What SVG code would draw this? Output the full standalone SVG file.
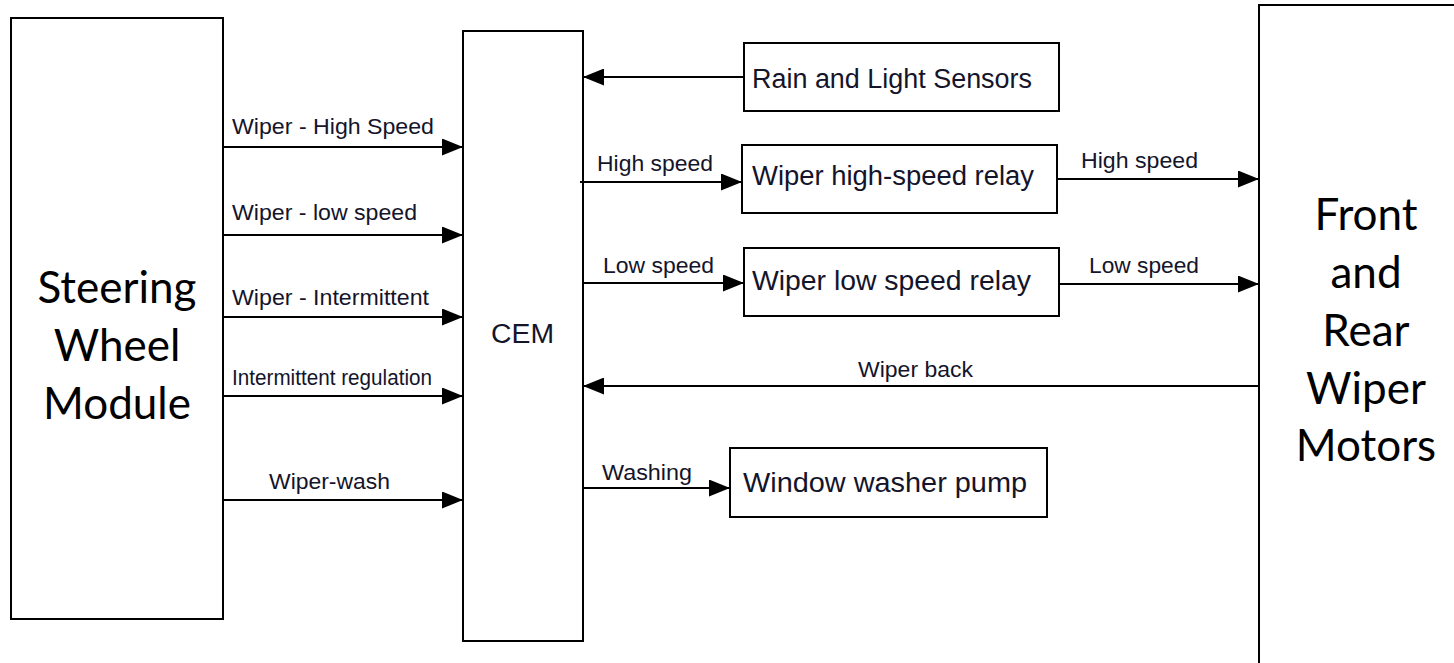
<svg xmlns="http://www.w3.org/2000/svg" width="1454" height="663" viewBox="0 0 1454 663">
<style>
.box{fill:#fff;stroke:#000;stroke-width:2}
.big{font-family:Lato,"Liberation Sans",sans-serif;font-size:44px;fill:#000;text-anchor:middle}
.bt{font-family:"Liberation Sans",Arial,sans-serif;font-size:27px;fill:#14142a}
.lb{font-family:"Liberation Sans",Arial,sans-serif;font-size:22px;fill:#14142a}
.ln{stroke:#000;stroke-width:2;fill:none;marker-end:url(#ah)}
</style>
<defs>
<marker id="ah" markerUnits="userSpaceOnUse" markerWidth="21" markerHeight="17" refX="21" refY="8.5" orient="auto">
<path d="M0,0 L21,8.5 L0,17 z" fill="#000"/>
</marker>
</defs>
<rect width="1454" height="663" fill="#fff"/>
<g id="swm">
<rect class="box" x="11" y="18" width="212" height="601"/>
<text class="big" x="117" y="303">Steering</text>
<text class="big" x="117" y="361">Wheel</text>
<text class="big" x="117" y="419">Module</text>
</g>
<g id="cem">
<rect class="box" x="463" y="31" width="120" height="610"/>
<text class="bt" x="491" y="343" textLength="63" lengthAdjust="spacingAndGlyphs">CEM</text>
</g>
<g id="rain">
<rect class="box" x="744" y="43" width="315" height="68"/>
<text class="bt" x="752" y="88" textLength="280" lengthAdjust="spacingAndGlyphs">Rain and Light Sensors</text>
</g>
<g id="hsrelay">
<rect class="box" x="742" y="145" width="315" height="68"/>
<text class="bt" x="752" y="185" textLength="282" lengthAdjust="spacingAndGlyphs">Wiper high-speed relay</text>
</g>
<g id="lsrelay">
<rect class="box" x="744" y="248" width="315" height="68"/>
<text class="bt" x="752" y="290" textLength="279" lengthAdjust="spacingAndGlyphs">Wiper low speed relay</text>
</g>
<g id="pump">
<rect class="box" x="730" y="448" width="317" height="69"/>
<text class="bt" x="743" y="492" textLength="284" lengthAdjust="spacingAndGlyphs">Window washer pump</text>
</g>
<g id="motors">
<rect class="box" x="1259" y="5" width="240" height="700"/>
<text class="big" x="1366" y="230">Front</text>
<text class="big" x="1366" y="288">and</text>
<text class="big" x="1366" y="346">Rear</text>
<text class="big" x="1366" y="404">Wiper</text>
<text class="big" x="1366" y="461">Motors</text>
</g>
<g id="connectors">
<line class="ln" x1="223" y1="147" x2="463" y2="147"/>
<line class="ln" x1="223" y1="235" x2="463" y2="235"/>
<line class="ln" x1="223" y1="317" x2="463" y2="317"/>
<line class="ln" x1="223" y1="396" x2="463" y2="396"/>
<line class="ln" x1="223" y1="500" x2="463" y2="500"/>
<line class="ln" x1="744" y1="77" x2="583" y2="77"/>
<line class="ln" x1="580" y1="182" x2="742" y2="182"/>
<line class="ln" x1="583" y1="283" x2="744" y2="283"/>
<line class="ln" x1="1057" y1="179" x2="1259" y2="179"/>
<line class="ln" x1="1059" y1="284" x2="1259" y2="284"/>
<line class="ln" x1="1259" y1="386" x2="583" y2="386"/>
<line class="ln" x1="583" y1="488" x2="730" y2="488"/>
<text class="lb" x="232" y="134" textLength="202" lengthAdjust="spacingAndGlyphs">Wiper - High Speed</text>
<text class="lb" x="232" y="220" textLength="185" lengthAdjust="spacingAndGlyphs">Wiper - low speed</text>
<text class="lb" x="232" y="305" textLength="197" lengthAdjust="spacingAndGlyphs">Wiper - Intermittent</text>
<text class="lb" x="232" y="385" textLength="200" lengthAdjust="spacingAndGlyphs">Intermittent regulation</text>
<text class="lb" x="269" y="489" textLength="121" lengthAdjust="spacingAndGlyphs">Wiper-wash</text>
<text class="lb" x="597" y="171" textLength="116" lengthAdjust="spacingAndGlyphs">High speed</text>
<text class="lb" x="603" y="273" textLength="111" lengthAdjust="spacingAndGlyphs">Low speed</text>
<text class="lb" x="1081" y="168" textLength="117" lengthAdjust="spacingAndGlyphs">High speed</text>
<text class="lb" x="1089" y="273" textLength="110" lengthAdjust="spacingAndGlyphs">Low speed</text>
<text class="lb" x="858" y="377" textLength="115" lengthAdjust="spacingAndGlyphs">Wiper back</text>
<text class="lb" x="602" y="480" textLength="90" lengthAdjust="spacingAndGlyphs">Washing</text>
</g>
</svg>
